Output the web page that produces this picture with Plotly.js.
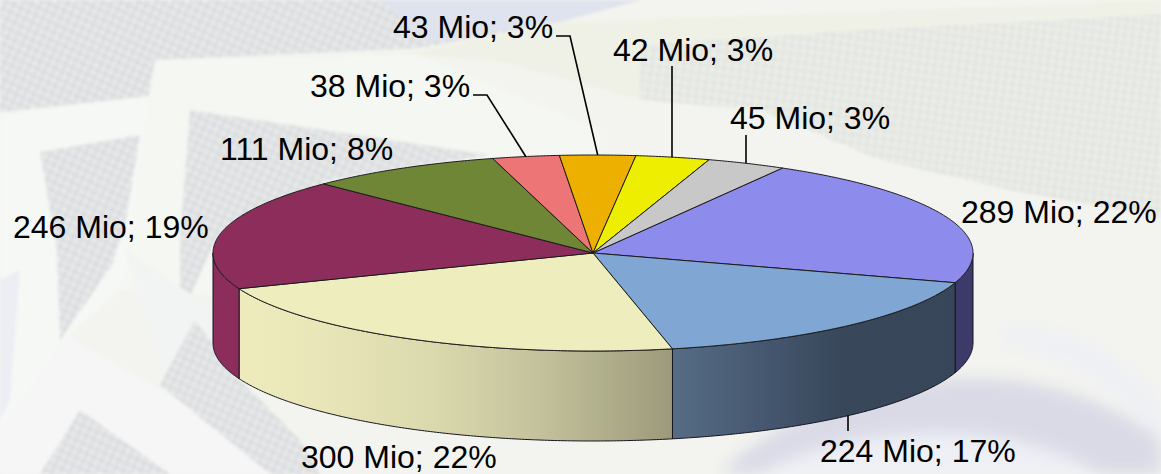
<!DOCTYPE html>
<html><head><meta charset="utf-8">
<script src="https://cdn.plot.ly/plotly-3.0.1.min.js"></script>
<style>html,body{margin:0;padding:0;background:#eef0ea;overflow:hidden}#c{width:1161px;height:474px}</style>
</head><body><div id="c"></div>
<script>
// ---- data ----
const values = [289, 224, 300, 246, 111, 38, 43, 42, 45];
const percents = [22, 17, 22, 19, 8, 3, 3, 3, 3];
const colors = ['#8D8BEC', '#80A6D3', '#EEEDBD', '#8C2D5C', '#6E8636', '#EE7575', '#EEB000', '#EEEE00', '#C8C8C8'];
const labelLeft = [961, 820, 301, 13, 220, 310, 393, 613, 730];
const labelMid = [212, 451, 457, 227, 149, 86, 27, 50, 118];
const unit = ' Mio';

// ---- tilted pie geometry ----
const CX = 593, CY = 253, RX = 380, RY = 98, DEPTH = 90, START = 60.1;
const total = values.reduce((a, b) => a + b, 0);
const ex = a => CX + RX * Math.cos(a * Math.PI / 180);
const ey = (a, d) => CY - RY * Math.sin(a * Math.PI / 180) + (d || 0);
function arc(a1, a2, d) {
  const n = Math.max(2, Math.ceil(Math.abs(a1 - a2) / 0.5)), xs = [], ys = [];
  for (let i = 0; i <= n; i++) { const a = a1 + (a2 - a1) * i / n; xs.push(ex(a)); ys.push(ey(a, d)); }
  return [xs, ys];
}
let cum = START;
const slices = values.map(v => { const s = cum, e = cum - v / total * 360; cum = e; return { s, e, m: (s + e) / 2 }; });

const wallFill = [
  [[0, '#3C3A68'], [1, '#3C3A68']],
  [[0, '#566C85'], [0.35, '#44566E'], [0.6, '#38475A'], [1, '#374659']],
  [[0, '#EEECBC'], [0.2, '#E8E6B8'], [0.45, '#DAD9AD'], [0.7, '#C2C19B'], [1, '#9C9A7A']],
  [[0, '#8C2D5C'], [1, '#8C2D5C']]
];
const traces = [];
slices.forEach((sl, i) => {
  const a1 = Math.min(sl.s, 0), a2 = Math.max(sl.e, -180);
  if (a1 <= a2) return;
  const [x1, y1] = arc(a1, a2, 0), [x2, y2] = arc(a2, a1, DEPTH);
  traces.push({
    type: 'scatter', mode: 'lines', x: x1.concat(x2, [x1[0]]), y: y1.concat(y2, [y1[0]]),
    fill: 'toself', fillgradient: { type: 'horizontal', colorscale: wallFill[i] },
    line: { color: '#15151f', width: 1, simplify: false }, hoverinfo: 'skip', showlegend: false
  });
});
slices.forEach((sl, i) => {
  const [x, y] = arc(sl.s, sl.e, 0);
  traces.push({
    type: 'scatter', mode: 'lines', x: [CX].concat(x, [CX]), y: [CY].concat(y, [CY]),
    fill: 'toself', fillcolor: colors[i], line: { color: '#1c1c1c', width: 1, simplify: false },
    hoverinfo: 'skip', showlegend: false
  });
});
const leaders = [
  [5, 0, [[487, 95], [473, 95]]],
  [6, 0, [[570, 36], [556, 36]]],
  [7, 0, [[672, 66]]],
  [8, 0, [[746, 135]]],
  [1, DEPTH, [[848, 431]]]
];
leaders.forEach(([i, d, pts]) => {
  const a = slices[i].m;
  const px = i === 1 || i === 7 || i === 8 ? pts[0][0] : ex(a);
  traces.push({
    type: 'scatter', mode: 'lines', x: [px].concat(pts.map(p => p[0])), y: [ey(a, d)].concat(pts.map(p => p[1])),
    line: { color: '#000', width: 1.6, simplify: false }, hoverinfo: 'skip', showlegend: false
  });
});
const annotations = values.map((v, i) => ({
  x: labelLeft[i], y: labelMid[i], xref: 'x', yref: 'y', xanchor: 'left', yanchor: 'middle',
  showarrow: false, borderpad: 0, borderwidth: 0,
  text: v + unit + '; ' + percents[i] + '%',
  font: { family: '"Liberation Sans", Arial, sans-serif', size: 32, color: '#000' }
}));

// ---- faded photo backdrop ----
const dots = '<pattern id="d" width="8" height="8" patternUnits="userSpaceOnUse" patternTransform="rotate(25)"><rect width="8" height="8" fill="#dfe1e3"/><circle cx="2.5" cy="2.5" r="2" fill="#eceeec"/><circle cx="6.5" cy="6.5" r="1.5" fill="#d4d7dc"/></pattern>' +
  '<pattern id="g" width="8" height="8" patternUnits="userSpaceOnUse" patternTransform="rotate(8)"><rect width="8" height="8" fill="#e6e8e4"/><circle cx="2.5" cy="2.5" r="2" fill="#eef0ea"/><circle cx="6.5" cy="6.5" r="1.5" fill="#dfe1e0"/></pattern>';
const poly = (p, f) => '<polygon points="' + p + '" fill="' + f + '"/>';
const bgSvg = '<svg xmlns="http://www.w3.org/2000/svg" width="1161" height="474" viewBox="0 0 1161 474"><defs>' + dots +
  '<filter id="b" x="-10%" y="-10%" width="120%" height="120%"><feGaussianBlur stdDeviation="1.4"/></filter>' +
  '<filter id="b2" x="-20%" y="-20%" width="140%" height="140%"><feGaussianBlur stdDeviation="8"/></filter></defs>' +
  '<rect width="1161" height="474" fill="#f3f4ef"/><g filter="url(#b)">' +
  poly('0,0 640,0 560,22 420,48 155,60 150,96 0,112', 'url(#d)') +
  poly('380,0 640,0 560,22 430,42', '#dfe3ee') +
  poly('560,22 1161,0 1161,14 860,30 640,45 640,100 500,62 400,55', '#f0f1e6') +
  poly('640,45 860,30 1161,14 1161,218 1010,190 880,160 760,110 640,100', 'url(#g)') +
  poly('155,60 420,55 600,130 600,250 300,300 120,290 128,215', '#f5f7f2') +
  poly('0,115 150,96 128,260 120,290 70,335 0,430', '#f6f8f5') +
  poly('40,152 140,135 125,225 112,265 60,340 57,250', 'url(#d)') +
  poly('190,110 490,155 330,180 215,240 180,320 180,240', 'url(#d)') +
  poly('125,250 230,320 250,400 350,474 230,474 180,400 155,350', '#f2f4f3') +
  poly('65,335 300,470 300,474 0,474 0,430', '#f6f6f7') +
  poly('80,410 170,474 40,474', 'url(#d)') +
  poly('195,320 240,380 300,440 320,474 270,474 160,385', 'url(#d)') +
  poly('0,280 20,270 10,400 0,420', '#eceef4') +
  '</g><g filter="url(#b2)">' +
  '<path d="M720,474 C790,400 1000,320 1161,440 L1161,474 Z" fill="#d9dae6"/>' +
  '<path d="M760,474 C830,430 1000,410 1100,474 Z" fill="#eef0f6"/>' +
  '<path d="M1000,330 C1060,320 1120,350 1161,400 L1161,440 C1110,380 1050,350 1000,345 Z" fill="#eef0f4"/>' +
  '</g></svg>';

Plotly.newPlot('c', traces, {
  width: 1161, height: 474, margin: { l: 0, r: 0, t: 0, b: 0 },
  paper_bgcolor: 'rgba(0,0,0,0)', plot_bgcolor: 'rgba(0,0,0,0)', showlegend: false,
  xaxis: { range: [0, 1161], visible: false, fixedrange: true },
  yaxis: { range: [474, 0], visible: false, fixedrange: true },
  annotations,
  images: [{ source: 'data:image/svg+xml;charset=utf-8,' + encodeURIComponent(bgSvg), xref: 'paper', yref: 'paper', x: 0, y: 1, sizex: 1, sizey: 1, sizing: 'stretch', xanchor: 'left', yanchor: 'top', layer: 'below' }]
}, { staticPlot: true, displayModeBar: false });
</script></body></html>
